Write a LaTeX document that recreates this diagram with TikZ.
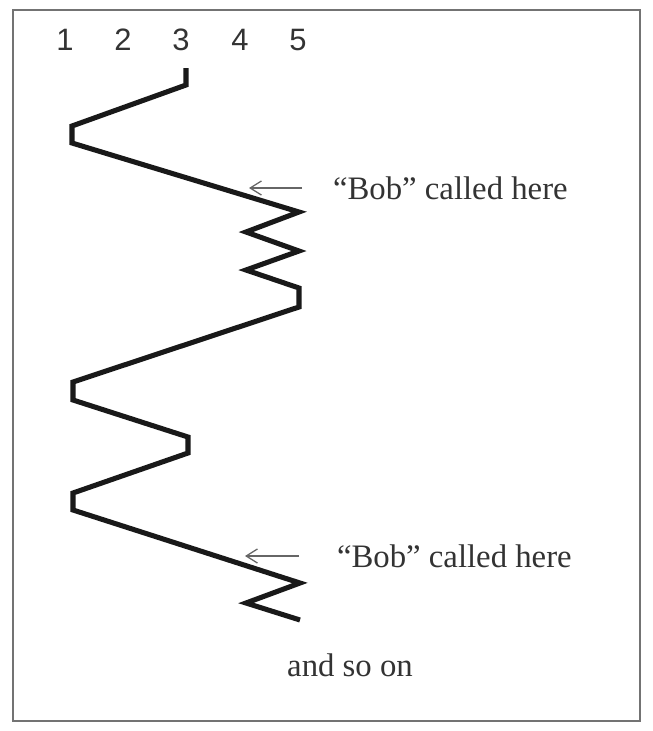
\documentclass[tikz,border=0pt]{standalone}
\usepackage{fontspec}
\setmainfont{Liberation Serif}
\newfontfamily\placefont{Liberation Sans}
\usetikzlibrary{arrows.meta, positioning}
\tikzset{
  frame/.style = {draw=black!55, line width=1.1pt},
  placenum/.style = {
    font=\placefont\fontsize{22}{26}\selectfont, text=black!80, inner sep=0pt
  },
  note/.style = {
    font=\fontsize{23.3}{28}\selectfont, text=black!80,
    inner sep=0pt, outer xsep=0.85cm, anchor=west
  },
  bell/.style = {line width=3.6pt, draw=black!90},
  myarrow/.style = {-{Straight Barb[length=8pt, width=10pt]}, draw=black!60, line width=0.9pt}
}

\begin{document}
\begin{tikzpicture}[x=0.025cm, y=-0.025cm]

\useasboundingbox (0,0) rectangle (652,731);
\draw[frame] (13,10) rectangle (640,721);

% ----- PLACE NUMBERS -----
\foreach \i/\x in {1/65, 2/123, 3/181, 4/240, 5/298}
  \node[placenum] (n\i) at (\x,40) {\i};

% ----- PATH OF THE BELL -----
\draw[bell] (186,68) -- (186,85) -- (72,126) -- (72,143)
  -- (299,212) -- (246,232) -- (299,251) -- (246,270) -- (299,288) -- (299,307)
  -- (73,382) -- (73,400) -- (188,437) -- (188,453) -- (73,493) -- (73,510)
  -- (300,583) -- (246,603) -- (300,620);

% ----- NOTES -----
\node[note, outer xsep=0.775cm] (bob1) at (302,188) {``Bob'' called here};
\node[note, outer xsep=0.95cm]  (bob2) at (299,556) {``Bob'' called here};
\node[font=\fontsize{23.3}{28}\selectfont, text=black!80] (more) at (350,665) {and so on};

\coordinate (hit1) at (249,189);
\coordinate (hit2) at (245,557);

% ----- ARROWS -----
\draw[myarrow] (bob1.west) -- (bob1.west -| hit1);
\draw[myarrow] (bob2.west) -- (bob2.west -| hit2);

\end{tikzpicture}
\end{document}
